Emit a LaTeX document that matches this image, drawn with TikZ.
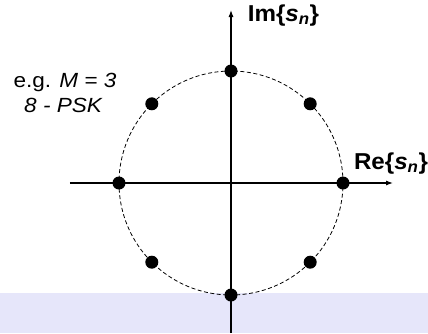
\documentclass[tikz,border=0pt]{standalone}
\usepackage{fontspec}
\setmainfont{Liberation Sans}
\newfontfamily\notefont[FakeStretch=1.1]{Liberation Sans}
\newfontfamily\axisfont[FakeStretch=1.05]{Liberation Sans}
\usepackage{tikz}
\usetikzlibrary{arrows.meta, positioning}
\definecolor{mydark}{RGB}{0,0,0}
\definecolor{myband}{RGB}{230,230,250}
\tikzset{
  axisline/.style={-{Latex[length=7pt,width=5pt]}, line width=1.1pt, color=mydark},
  ringline/.style={dashed, dash pattern=on 4pt off 2.5pt, line width=0.8pt, color=mydark},
  symdot/.style={circle, fill=mydark, inner sep=0pt, minimum size=13pt},
  axislabel/.style={font=\axisfont\fontsize{23}{26}\selectfont\bfseries, inner sep=0pt, anchor=base},
  notelabel/.style={font=\notefont\fontsize{20.5}{24}\selectfont, inner sep=0pt, anchor=base}
}
\begin{document}
\begin{tikzpicture}[x=1pt, y=1pt]
  \useasboundingbox (-231,-150) rectangle (197,183);
  % Background band
  \fill[myband] (-231,-110) rectangle (197,-150);

  % Constellation ring
  \draw[ringline] (0,0) circle (112);

  % Axes
  \coordinate (xstart) at (-161,0);
  \coordinate (xend) at (162,0);
  \coordinate (ystart) at (0,-150);
  \coordinate (yend) at (0,173);
  \draw[axisline] (xstart) -- (xend);
  \draw[axisline] (ystart) -- (yend);

  % Symbols
  \foreach \k in {0,...,7}
    \node[symdot] (sym\k) at (\k*45:112) {};

  % Labels
  \node[axislabel] (imlabel) at (52.5,162) {Im\{\textit{s}\textsubscript{\textit{n}}\}};
  \node[axislabel] (relabel) at (160,14) {Re\{\textit{s}\textsubscript{\textit{n}}\}};
  \node[notelabel] (mlabel) at (-166,96) {e.g. \textit{M} = \textit{3}};
  \node[notelabel] (psklabel) at (-167.5,71) {\textit{8 - PSK}};
\end{tikzpicture}
\end{document}
